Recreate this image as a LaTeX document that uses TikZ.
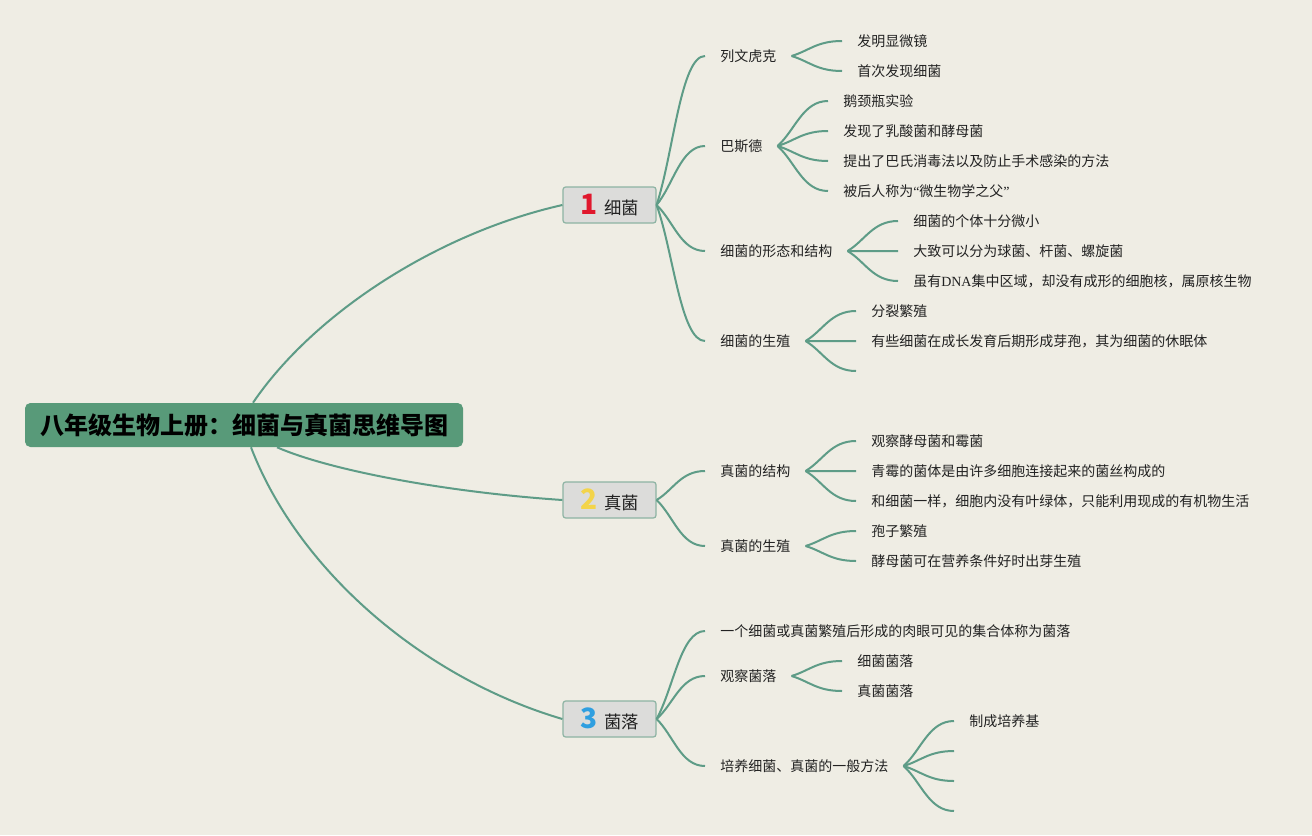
\documentclass[tikz,border=0pt]{standalone}
\usepackage{fontspec}
\setmainfont{Noto Sans CJK SC}
\newfontfamily\latinserif{Liberation Serif}
\usetikzlibrary{calc}
\definecolor{bgc}{HTML}{EFEDE4}
\definecolor{linkc}{HTML}{5E9C87}
\definecolor{rootc}{HTML}{589A79}
\definecolor{boxc}{HTML}{DCDCDA}
\definecolor{boxb}{HTML}{8DB3A3}
\definecolor{txtc}{HTML}{222222}
\definecolor{numred}{HTML}{E0182D}
\definecolor{numyel}{HTML}{F3D44A}
\definecolor{numblue}{HTML}{2F9FE0}
\tikzset{
  link/.style={draw=linkc, line width=1.5pt},
  rootbox/.style={fill=rootc, rounded corners=4pt, minimum width=328.5pt, minimum height=33pt,
    font=\fontsize{18}{20}\selectfont\bfseries, text=black, inner sep=0pt},
  branchbox/.style={fill=boxc, draw=boxb, line width=0.9pt, rounded corners=2pt,
    minimum width=69.75pt, minimum height=27pt, inner sep=0pt,
    font=\fontsize{13}{15}\selectfont, text=txtc},
  topic/.style={anchor=west, inner xsep=11.25pt, inner ysep=2pt,
    font=\fontsize{10.5}{12}\selectfont, text=txtc}
}
\newcommand\mmnum[2]{\textcolor{#1}{\fontsize{21}{21}\selectfont\bfseries #2}}
\newcommand\mmlink[2]{\draw[link] (#1) .. controls ($(#1)!0.35!(#2)$) and ($(#2)!0.5!(#1 |- #2)$) .. (#2);}
\begin{document}
\begin{tikzpicture}[x=0.75pt, y=-0.75pt]
\fill[bgc] (0,0) rectangle (1312,835);
\useasboundingbox (0,0) rectangle (1312,835);

% root
\node[rootbox] (root) at (244,425) {八年级生物上册：细菌与真菌思维导图};

% branches
\node[branchbox] (b1) at (609.5,205) {\mmnum{numred}{1}\hspace{5pt}细菌};
\node[branchbox] (b2) at (609.5,500) {\mmnum{numyel}{2}\hspace{5pt}真菌};
\node[branchbox] (b3) at (609.5,719) {\mmnum{numblue}{3}\hspace{5pt}菌落};

\coordinate (r1) at ($(root.north)+(9,0)$);
\coordinate (r2) at ($(root.south)+(33,0)$);
\coordinate (r3) at ($(root.south)+(7,0)$);
\draw[link] (r1) .. controls (314,313) and (438,233) .. (b1.west);
\draw[link] (r2) .. controls (329,470) and (444,492) .. (b2.west);
\draw[link] (r3) .. controls (298,570) and (423,678) .. (b3.west);

% ---- branch 1
\node[topic] (t11) at (705,56) {列文虎克};
\node[topic] (t12) at (705,146) {巴斯德};
\node[topic] (t13) at (705,251) {细菌的形态和结构};
\node[topic] (t14) at (705,341) {细菌的生殖};
\mmlink{b1.east}{t11.west}
\mmlink{b1.east}{t12.west}
\mmlink{b1.east}{t13.west}
\mmlink{b1.east}{t14.west}

\node[topic] (l111) at (842,41) {发明显微镜};
\node[topic] (l112) at (842,71) {首次发现细菌};
\mmlink{t11.east}{l111.west}
\mmlink{t11.east}{l112.west}

\node[topic] (l121) at (828,101) {鹅颈瓶实验};
\node[topic] (l122) at (828,131) {发现了乳酸菌和酵母菌};
\node[topic] (l123) at (828,161) {提出了巴氏消毒法以及防止手术感染的方法};
\node[topic] (l124) at (828,191) {被后人称为{\latinserif “}微生物学之父{\latinserif ”}};
\mmlink{t12.east}{l121.west}
\mmlink{t12.east}{l122.west}
\mmlink{t12.east}{l123.west}
\mmlink{t12.east}{l124.west}

\node[topic] (l131) at (898,221) {细菌的个体十分微小};
\node[topic] (l132) at (898,251) {大致可以分为球菌、杆菌、螺旋菌};
\node[topic] (l133) at (898,281) {虽有{\latinserif DNA}集中区域，却没有成形的细胞核，属原核生物};
\mmlink{t13.east}{l131.west}
\mmlink{t13.east}{l132.west}
\mmlink{t13.east}{l133.west}

\node[topic] (l141) at (856,311) {分裂繁殖};
\node[topic] (l142) at (856,341) {有些细菌在成长发育后期形成芽孢，其为细菌的休眠体};
\coordinate (e143) at (856,371);
\mmlink{t14.east}{l141.west}
\mmlink{t14.east}{l142.west}
\mmlink{t14.east}{e143}

% ---- branch 2
\node[topic] (t21) at (705,471) {真菌的结构};
\node[topic] (t22) at (705,546) {真菌的生殖};
\mmlink{b2.east}{t21.west}
\mmlink{b2.east}{t22.west}

\node[topic] (l211) at (856,441) {观察酵母菌和霉菌};
\node[topic] (l212) at (856,471) {青霉的菌体是由许多细胞连接起来的菌丝构成的};
\node[topic] (l213) at (856,501) {和细菌一样，细胞内没有叶绿体，只能利用现成的有机物生活};
\mmlink{t21.east}{l211.west}
\mmlink{t21.east}{l212.west}
\mmlink{t21.east}{l213.west}

\node[topic] (l221) at (856,531) {孢子繁殖};
\node[topic] (l222) at (856,561) {酵母菌可在营养条件好时出芽生殖};
\mmlink{t22.east}{l221.west}
\mmlink{t22.east}{l222.west}

% ---- branch 3
\node[topic] (t31) at (705,631) {一个细菌或真菌繁殖后形成的肉眼可见的集合体称为菌落};
\node[topic] (t32) at (705,676) {观察菌落};
\node[topic] (t33) at (705,766) {培养细菌、真菌的一般方法};
\mmlink{b3.east}{t31.west}
\mmlink{b3.east}{t32.west}
\mmlink{b3.east}{t33.west}

\node[topic] (l321) at (842,661) {细菌菌落};
\node[topic] (l322) at (842,691) {真菌菌落};
\mmlink{t32.east}{l321.west}
\mmlink{t32.east}{l322.west}

\node[topic] (l331) at (954,721) {制成培养基};
\coordinate (e332) at (954,751);
\coordinate (e333) at (954,781);
\coordinate (e334) at (954,811);
\mmlink{t33.east}{l331.west}
\mmlink{t33.east}{e332}
\mmlink{t33.east}{e333}
\mmlink{t33.east}{e334}
\end{tikzpicture}
\end{document}
